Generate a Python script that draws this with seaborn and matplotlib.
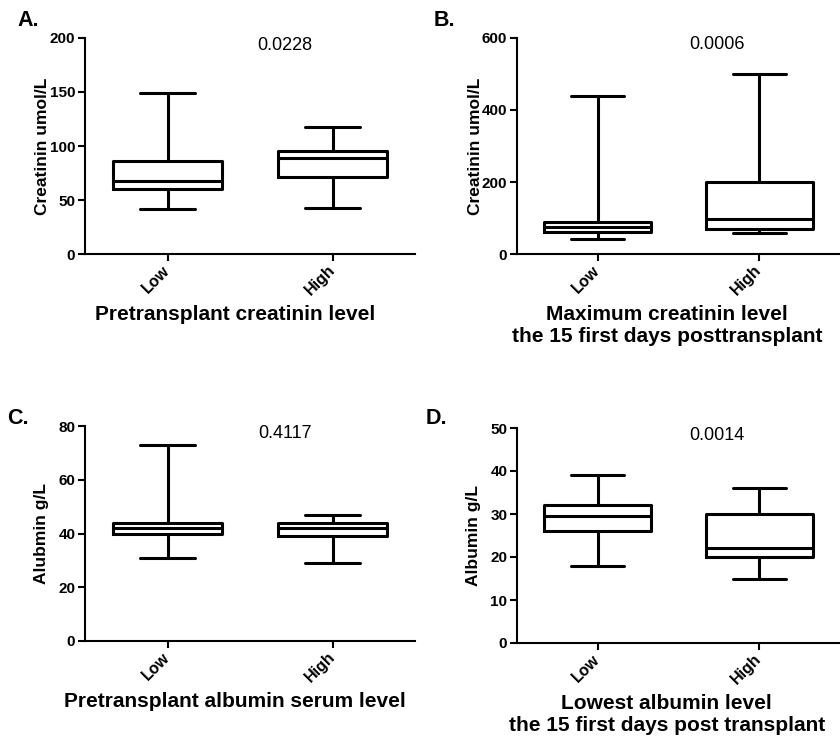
import matplotlib
matplotlib.use("Agg")
import matplotlib.pyplot as plt
import seaborn as sns
import pandas as pd

# ---- data (min, Q1, median, Q3, max) ----
groups = ["Low", "High"]
a_low = [42, 60, 68, 86, 149]
a_high = [43, 71, 89, 95, 118]
b_low = [42, 60, 76, 90, 438]
b_high = [58, 70, 97, 201, 501]
c_low = [31, 40, 42, 44, 73]
c_high = [29, 39, 42, 44, 47]
d_low = [18, 26, 29.5, 32, 39]
d_high = [15, 20, 22, 30, 36]

p_values = ["0.0228", "0.0006", "0.4117", "0.0014"]
panel_letters = ["A.", "B.", "C.", "D."]
y_labels = ["Creatinin umol/L", "Creatinin umol/L", "Alubmin g/L", "Albumin g/L"]
x_labels = ["Pretransplant creatinin level",
            "Maximum creatinin level\nthe 15 first days posttransplant",
            "Pretransplant albumin serum level",
            "Lowest albumin level\nthe 15 first days post transplant"]
y_ticks = [[0, 50, 100, 150, 200], [0, 200, 400, 600],
           [0, 20, 40, 60, 80], [0, 10, 20, 30, 40, 50]]

panels = [(a_low, a_high), (b_low, b_high), (c_low, c_high), (d_low, d_high)]

sns.set_style("ticks")
plt.rcParams["font.family"] = ["Liberation Sans", "DejaVu Sans"]
plt.rcParams["text.color"] = "black"
plt.rcParams["axes.labelcolor"] = "black"
plt.rcParams["xtick.color"] = "black"
plt.rcParams["ytick.color"] = "black"

fig = plt.figure(figsize=(8.4, 7.42), dpi=100)
W, H = 840, 742
# axes boxes in pixels: left, right, top, bottom
boxes = [(85, 415, 38, 254), (517, 840, 38, 254),
         (85, 415, 426, 641), (517, 840, 428, 643)]
letter_pos = [(17, 20), (434, 20), (7, 418), (426, 418)]
p_pos = [(0.606, 0.963), (0.62, 0.968), (0.606, 0.967), (0.62, 0.967)]
ylabel_x = [-0.105, -0.105, -0.11, -0.112]
xlabel_x = [0.455, 0.464, 0.455, 0.464]

for i, (lo, hi) in enumerate(panels):
    l, r, t, b = boxes[i]
    ax = fig.add_axes([l / W, (H - b) / H, (r - l) / W, (b - t) / H])
    df = pd.DataFrame({
        "group": [groups[0]] * len(lo) + [groups[1]] * len(hi),
        "value": lo + hi,
    })
    sns.boxplot(data=df, x="group", y="value", order=groups, ax=ax,
                whis=(0, 100), width=0.66, fill=False, color="black",
                linewidth=2.2, showfliers=False)
    ax.set_xlim(-0.5, 1.5)
    ax.set_ylim(y_ticks[i][0], y_ticks[i][-1])
    ax.set_yticks(y_ticks[i])
    ax.set_yticklabels([str(v) for v in y_ticks[i]], fontweight="bold", fontsize=11)
    ax.set_xticks([0, 1])
    ax.set_xticklabels(groups, rotation=45, ha="right", va="center",
                       rotation_mode="anchor", fontweight="bold", fontsize=11.5)
    ax.set_ylabel(y_labels[i], fontweight="bold", fontsize=12.5)
    ax.yaxis.set_label_coords(ylabel_x[i], 0.5)
    ax.set_xlabel(x_labels[i], fontweight="bold", fontsize=15, labelpad=5,
                  linespacing=1.2)
    ax.xaxis.label.set_x(xlabel_x[i])
    sns.despine(ax=ax)
    for s in ["left", "bottom"]:
        ax.spines[s].set_linewidth(1.5)
        ax.spines[s].set_color("black")
    ax.tick_params(axis="both", width=1.5, length=5, color="black", pad=2)
    ax.tick_params(axis="x", pad=5)
    ax.text(p_pos[i][0], p_pos[i][1], p_values[i], transform=ax.transAxes,
            ha="center", va="center", fontsize=13)
    lx, ly = letter_pos[i]
    fig.text(lx / W, 1 - ly / H, panel_letters[i], ha="left", va="center",
             fontweight="bold", fontsize=15.5)

fig.savefig("out.png", dpi=100)
